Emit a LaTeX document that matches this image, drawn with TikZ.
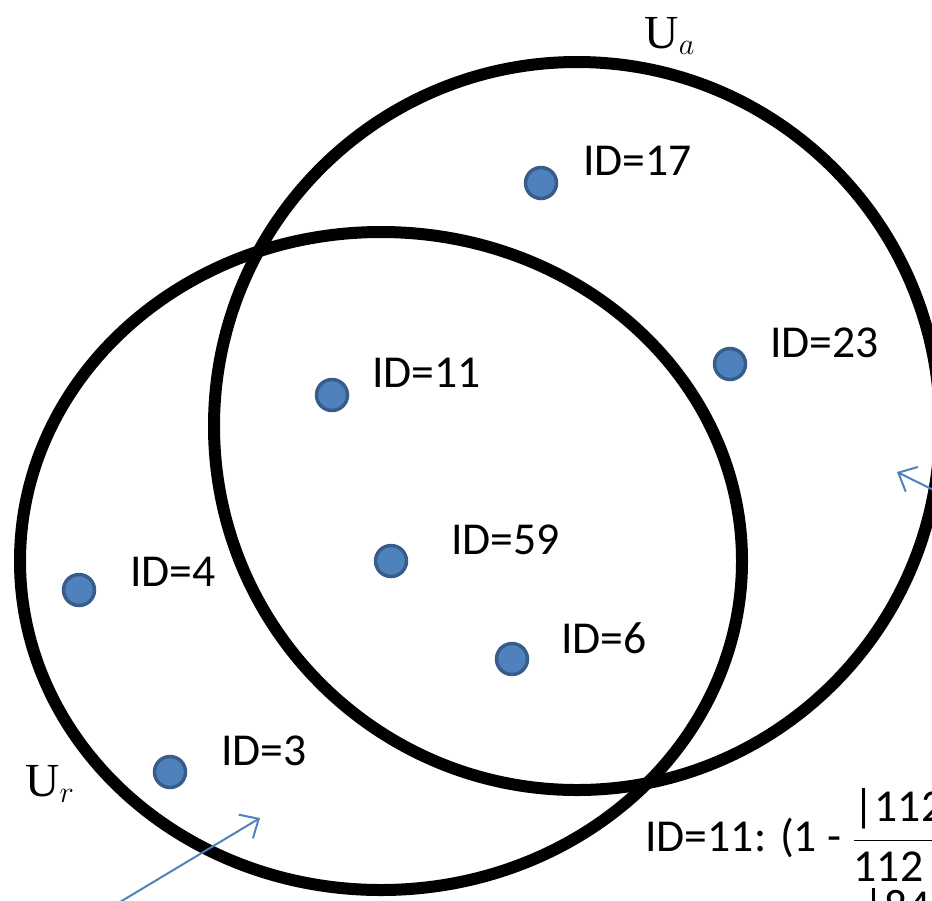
\documentclass[tikz,border=0pt]{standalone}
\usepackage{fontspec}
\usepackage{amsmath}
\setmainfont{Carlito}
\newfontfamily\setfont{Liberation Serif}
\usetikzlibrary{arrows.meta}
\definecolor{dotFill}{RGB}{79,129,189}
\definecolor{dotRim}{RGB}{56,93,138}
\newcommand{\SetName}[1]{{\setfont U}$_{#1}$}
\newcommand{\LeftPart}[1]{\text{\makebox[2.6cm][l]{#1}}}
\tikzset{
  setring/.style={draw=black,line width=0.24cm},
  member/.style={circle,fill=dotFill,draw=dotRim,line width=0.07cm,minimum size=0.62cm,inner sep=0pt},
  idlabel/.style={anchor=west,inner sep=0pt,font=\fontsize{26}{29}\selectfont},
  setname/.style={inner sep=0pt,font=\fontsize{27}{30}\selectfont},
  pointer/.style={draw=dotFill,line width=0.04cm,-{Straight Barb[length=0.3cm,width=0.55cm]}}
}

\begin{document}
\begin{tikzpicture}[x=0.02cm,y=-0.02cm]
\useasboundingbox (0,0) rectangle (932,900);
\clip (0,0) rectangle (932,900);
% the two sets
\draw[setring] (577,426) ellipse [x radius=363,y radius=364];
\draw[setring] (381,561) ellipse [x radius=361,y radius=329];
\node[setname] (nameA) at (670,36) {\SetName{a}};
\node[setname] (nameR) at (50,784) {\SetName{r}};
% members
\node[member] (m17) at (541,183) {};
\node[member] (m23) at (730,364) {};
\node[member] (m11) at (332,395) {};
\node[member] (m59) at (391,561) {};
\node[member] (m4) at (79,590) {};
\node[member] (m6) at (512,659) {};
\node[member] (m3) at (170,772) {};
\node[idlabel] (l17) at (583,161) {ID=17};
\node[idlabel] (l23) at (770,343) {ID=23};
\node[idlabel] (l11) at (372,373) {ID=11};
\node[idlabel] (l59) at (451,540) {ID=59};
\node[idlabel] (l4) at (130,572) {ID=4};
\node[idlabel] (l6) at (561,638) {ID=6};
\node[idlabel] (l3) at (221,751) {ID=3};
% pointers
\coordinate (tailR) at (100,914);
\coordinate (tipR) at (260,818);
\coordinate (tailA) at (970,508);
\coordinate (tipA) at (897,472);
\draw[pointer] (tailR) -- (tipR);
\draw[pointer] (tailA) -- (tipA);
% score text
\node[idlabel] (score) at (645,835) {ID=11: (1 - $\dfrac{\LeftPart{|112 {\char"2229} 84|}}{\LeftPart{112}}$};
\node[idlabel,anchor=north west] (scoreNext) at (863,888) {|84|};
\end{tikzpicture}
\end{document}
